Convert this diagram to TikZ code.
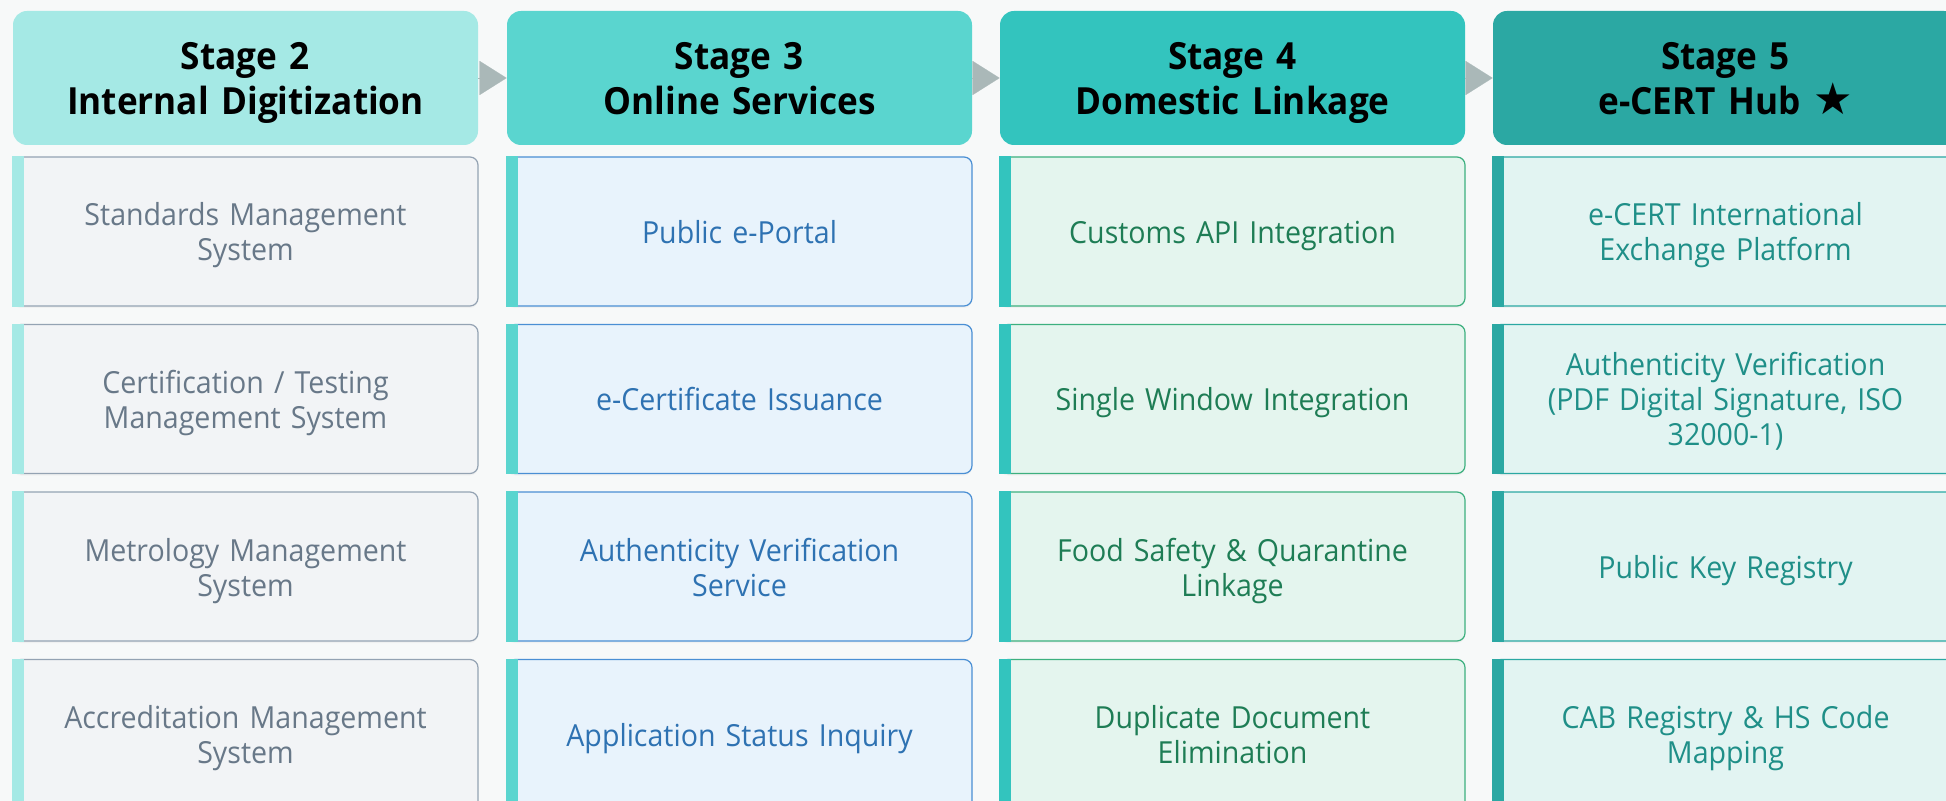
\documentclass[tikz,border=0pt]{standalone}
\usepackage{fontspec}
\setmainfont{Open Sans}[FakeStretch=0.94]
\newfontfamily\symfont{DejaVu Sans}
\usetikzlibrary{arrows.meta,shadows}

\definecolor{pagebg}{HTML}{F7F9F9}
\definecolor{arrowgray}{HTML}{AAB8B8}
% header fills
\definecolor{headA}{HTML}{A5E9E5}
\definecolor{headB}{HTML}{5AD5CF}
\definecolor{headC}{HTML}{33C4BE}
\definecolor{headD}{HTML}{2BA8A3}
% card fills / borders / texts
\definecolor{fillA}{HTML}{F2F4F6}
\definecolor{bordA}{HTML}{94A3B3}
\definecolor{textA}{HTML}{687888}
\definecolor{fillB}{HTML}{E8F3FC}
\definecolor{bordB}{HTML}{4A8FD4}
\definecolor{textB}{HTML}{2E72B2}
\definecolor{fillC}{HTML}{E4F5EE}
\definecolor{bordC}{HTML}{3DB07F}
\definecolor{textC}{HTML}{1E7D55}
\definecolor{fillD}{HTML}{E2F4F2}
\definecolor{bordD}{HTML}{2BA8A3}
\definecolor{textD}{HTML}{1F8F88}

\tikzset{
  stagebox/.style={rounded corners=7pt, minimum width=232.5pt, minimum height=67pt,
    inner sep=0pt, text width=220pt, align=center, text=black,
    font=\bfseries\fontsize{18.7}{22.5}\selectfont,
    execute at begin node={\rule{0pt}{20pt}},
    execute at end node={\rule[-5.5pt]{0pt}{5.5pt}}},
  itembox/.style={rounded corners=4pt, line width=0.6pt, minimum width=232.5pt,
    minimum height=74.5pt, inner sep=0pt, text width=220pt, align=center,
    font=\fontsize{15.2}{17.5}\selectfont,
    execute at begin node={\rule{0pt}{16.5pt}},
    execute at end node={\rule[-4.5pt]{0pt}{4.5pt}},
    drop shadow={shadow xshift=0pt, shadow yshift=-1pt, opacity=0.06}},
  cardA/.style={itembox, fill=fillA, draw=bordA, text=textA},
  cardB/.style={itembox, fill=fillB, draw=bordB, text=textB},
  cardC/.style={itembox, fill=fillC, draw=bordC, text=textC},
  cardD/.style={itembox, fill=fillD, draw=bordD, text=textD},
}

\begin{document}
\begin{tikzpicture}[x=0.5pt, y=-0.5pt]
    % 1. Canvas
    \useasboundingbox (0,0) rectangle (1946,801);
    \fill[pagebg] (0,0) rectangle (1946,801);
    \clip (0,0) rectangle (1946,801);

    % 2. Stage headers
    \node[stagebox, fill=headA] (h2) at (245.5,78)  {Stage 2\\Internal Digitization};
    \node[stagebox, fill=headB] (h3) at (739.5,78)  {Stage 3\\Online Services};
    \node[stagebox, fill=headC] (h4) at (1232.5,78) {Stage 4\\Domestic Linkage};
    \node[stagebox, fill=headD] (h5) at (1725.5,78) {Stage 5\\e-CERT Hub {\symfont\fontsize{22}{22}\selectfont ★}};

    % 3. Arrows between stages
    \foreach \a/\b in {h2/h3, h3/h4, h4/h5} {
        \draw[arrowgray, line width=0.1pt, -{Triangle[length=13.5pt, width=17pt]}] (\a.east) -- (\b.west);
    }

    % 4. Stage 2 cards
    \node[cardA] (a1) at (245.5,231.5) {Standards Management\\System};
    \node[cardA] (a2) at (245.5,399)   {Certification / Testing\\Management System};
    \node[cardA] (a3) at (245.5,566.5) {Metrology Management\\System};
    \node[cardA] (a4) at (245.5,734)   {Accreditation Management\\System};

    % 5. Stage 3 cards
    \node[cardB] (b1) at (739.5,231.5) {Public e-Portal};
    \node[cardB] (b2) at (739.5,399)   {e-Certificate Issuance};
    \node[cardB] (b3) at (739.5,566.5) {Authenticity Verification\\Service};
    \node[cardB] (b4) at (739.5,734)   {Application Status Inquiry};

    % 6. Stage 4 cards
    \node[cardC] (c1) at (1232.5,231.5) {Customs API Integration};
    \node[cardC] (c2) at (1232.5,399)   {Single Window Integration};
    \node[cardC] (c3) at (1232.5,566.5) {Food Safety \& Quarantine\\Linkage};
    \node[cardC] (c4) at (1232.5,734)   {Duplicate Document\\Elimination};

    % 7. Stage 5 cards
    \node[cardD] (d1) at (1725.5,231.5) {e-CERT International\\Exchange Platform};
    \node[cardD] (d2) at (1725.5,399)   {Authenticity Verification\\(PDF Digital Signature, ISO\\32000-1)};
    \node[cardD] (d3) at (1725.5,566.5) {Public Key Registry};
    \node[cardD] (d4) at (1725.5,734)   {CAB Registry \& HS Code\\Mapping};

    % 8. Left accent bars
    \foreach \n/\col in {a/headA, b/headB, c/headC, d/headD} {
        \foreach \r in {1,2,3,4} {
            \fill[\col] (\n\r.north west) rectangle ([xshift=6pt]\n\r.south west);
        }
    }
\end{tikzpicture}
\end{document}
